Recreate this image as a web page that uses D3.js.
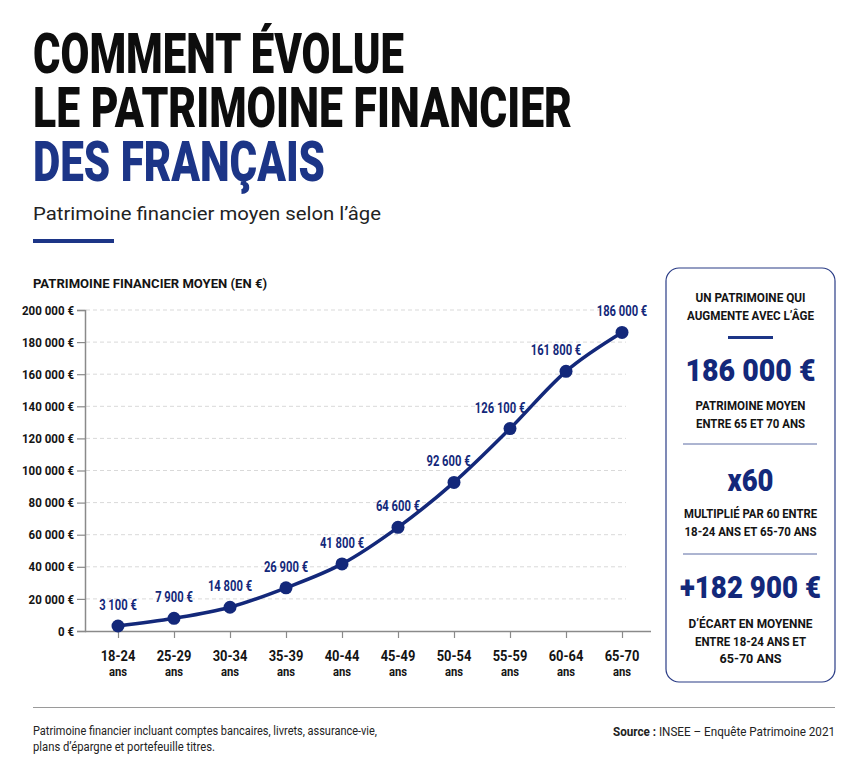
<!DOCTYPE html>
<html><head><meta charset="utf-8">
<script src="https://cdn.jsdelivr.net/npm/d3@7"></script>
<style>
html,body{margin:0;padding:0;background:#fff;}
svg{display:block;font-family:Roboto,"Noto Sans",sans-serif;}
</style></head>
<body><svg id="chart" width="860" height="768"></svg>
<script>
// ---- data ----
const categories = ["18-24","25-29","30-34","35-39","40-44","45-49","50-54","55-59","60-64","65-70"];
const values = [3100,7900,14800,26900,41800,64600,92600,126100,161800,186000];
const yTicks = [0,20000,40000,60000,80000,100000,120000,140000,160000,180000,200000];
const titleLines = ["COMMENT ÉVOLUE","LE PATRIMOINE FINANCIER","DES FRANÇAIS"];
const subtitle = "Patrimoine financier moyen selon l’âge";
const axisTitle = "PATRIMOINE FINANCIER MOYEN (EN €)";
const panelHead = ["UN PATRIMOINE QUI","AUGMENTE AVEC L’ÂGE"];
const panelStats = [
  {big:"186 000 €", lines:["PATRIMOINE MOYEN","ENTRE 65 ET 70 ANS"]},
  {big:"x60", lines:["MULTIPLIÉ PAR 60 ENTRE","18-24 ANS ET 65-70 ANS"]},
  {big:"+182 900 €", lines:["D’ÉCART EN MOYENNE","ENTRE 18-24 ANS ET","65-70 ANS"]}
];
const footNote = ["Patrimoine financier incluant comptes bancaires, livrets, assurance-vie,","plans d’épargne et portefeuille titres."];
const sourceBold = "Source :";
const sourceText = " INSEE – Enquête Patrimoine 2021";

// ---- style ----
const NAVY = "#13287a", BLUE = "#1c3587", INK = "#141414";
const svg = d3.select("#chart");
svg.append("rect").attr("width",860).attr("height",768).attr("fill","#fff");

function squeeze(sel, factor, width){
  sel.each(function(){
    const w = width || this.getComputedTextLength()*factor;
    d3.select(this).attr("textLength", w).attr("lengthAdjust","spacingAndGlyphs");
  });
  return sel;
}
function txt(g,x,y,s,o){
  const t = g.append("text").attr("x",x).attr("y",y).text(s)
    .attr("font-size",o.size).attr("font-weight",o.weight||400)
    .attr("fill",o.fill||INK).attr("text-anchor",o.anchor||"start");
  if(o.width||o.f) squeeze(t,o.f,o.width);
  return t;
}

// ---- header ----
const titleW = [371,539,292];
titleLines.forEach((s,i)=>{
  txt(svg,33,[73,127,181][i],s,{size:56,weight:900,fill:i===2?BLUE:"#0d0d0d",width:titleW[i]});
});
txt(svg,33,220,subtitle,{size:19,weight:400,fill:"#222",width:348});
svg.append("rect").attr("x",33).attr("y",239).attr("width",81).attr("height",4).attr("fill",BLUE);

// ---- chart ----
txt(svg,33,288,axisTitle,{size:13,weight:700,fill:INK,width:234});

const x = d3.scalePoint().domain(categories).range([118,622]);
const y = d3.scaleLinear().domain([0,200000]).range([631,310]);
const fr = d3.formatLocale({decimal:",",thousands:" ",grouping:[3],currency:[""," €"]});
const fmt = fr.format("$,.0f");

// grid
svg.append("g").selectAll("line").data(yTicks.filter(d=>d>0)).join("line")
  .attr("x1",86).attr("x2",626).attr("y1",d=>y(d)).attr("y2",d=>y(d))
  .attr("stroke","#d9d9d9").attr("stroke-width",1).attr("stroke-dasharray","4,3");

// y axis
const yAxis = svg.append("g").attr("transform","translate(85,0)")
  .call(d3.axisLeft(y).tickValues(yTicks).tickFormat(fmt).tickSize(8).tickPadding(3));
yAxis.select(".domain").attr("stroke","#8a8a8a").attr("stroke-width",1.5);
yAxis.selectAll(".tick line").attr("stroke","#8a8a8a").attr("stroke-width",1.2);
yAxis.selectAll(".tick text").attr("font-size",12.8).attr("font-weight",700).attr("fill",INK)
  .attr("font-family","Roboto,sans-serif").call(s=>squeeze(s,0.9));

// x axis
const xAxis = svg.append("g").attr("transform","translate(0,631)")
  .call(d3.axisBottom(x).tickSize(7).tickFormat(""));
xAxis.select(".domain").attr("d","M85,0.5H651").attr("stroke","#8a8a8a").attr("stroke-width",1.5);
xAxis.selectAll(".tick line").attr("stroke","#8a8a8a").attr("stroke-width",1.2);
const xl = svg.append("g");
categories.forEach(c=>{
  txt(xl,x(c),661,c,{size:14,weight:700,anchor:"middle",f:0.92});
  txt(xl,x(c),676,"ans",{size:12.5,weight:700,anchor:"middle",f:0.9});
});

// line
const pts = categories.map((c,i)=>({c,v:values[i]}));
svg.append("path").datum(pts)
  .attr("d",d3.line().x(d=>x(d.c)).y(d=>y(d.v)).curve(d3.curveMonotoneX))
  .attr("fill","none").attr("stroke",NAVY).attr("stroke-width",3.5);
svg.append("g").selectAll("circle").data(pts).join("circle")
  .attr("cx",d=>x(d.c)).attr("cy",d=>y(d.v)).attr("r",6.5).attr("fill",NAVY);
const lab = svg.append("g");
pts.forEach((d,i)=>{
  const rise = i>0 ? y(pts[i-1].v)-y(d.v) : 0;
  const dx = rise>40 ? -Math.min(10,(rise-40)/2+3) : 0;
  txt(lab,x(d.c)+dx,y(d.v)-16,fmt(d.v),{size:14,weight:700,fill:NAVY,anchor:"middle",f:0.8});
});

// ---- side panel ----
const P = svg.append("g");
P.append("rect").attr("x",666).attr("y",268).attr("width",169).attr("height",414).attr("rx",13)
  .attr("fill","#fff").attr("stroke","#2a3c86").attr("stroke-width",1.2);
const cx = 750.5;
txt(P,cx,302,panelHead[0],{size:13.5,weight:700,anchor:"middle",width:110});
txt(P,cx,320,panelHead[1],{size:13.5,weight:700,anchor:"middle",width:127});
P.append("rect").attr("x",728).attr("y",336).attr("width",45).attr("height",3).attr("fill",BLUE);
const bigY=[381,491,598], bigW=[130,46,141];
const lineY=[[410,428],[518,536],[628,646,663]];
const lineW=[[110,109],[133,132],[124,111,62]];
panelStats.forEach((s,i)=>{
  txt(P,cx,bigY[i],s.big,{size:31,weight:900,fill:NAVY,anchor:"middle",width:bigW[i]});
  s.lines.forEach((l,j)=>txt(P,cx,lineY[i][j],l,{size:12.5,weight:700,anchor:"middle",width:lineW[i][j]}));
});
[444,554].forEach(yy=>P.append("line").attr("x1",683).attr("x2",817).attr("y1",yy).attr("y2",yy)
  .attr("stroke","#5b6aa3").attr("stroke-width",1));

// ---- footer ----
svg.append("line").attr("x1",33).attr("x2",835).attr("y1",707.5).attr("y2",707.5)
  .attr("stroke","#9a9a9a").attr("stroke-width",1.2);
txt(svg,33,735,footNote[0],{size:12,weight:400,fill:"#222",width:344});
txt(svg,33,751,footNote[1],{size:12,weight:400,fill:"#222",width:182});
const src = svg.append("text").attr("x",835).attr("y",736).attr("text-anchor","end")
  .attr("font-size",12).attr("fill","#222");
src.append("tspan").attr("font-weight",700).text(sourceBold);
src.append("tspan").attr("font-weight",400).text(sourceText);
squeeze(src,null,222);
</script>
</body></html>
